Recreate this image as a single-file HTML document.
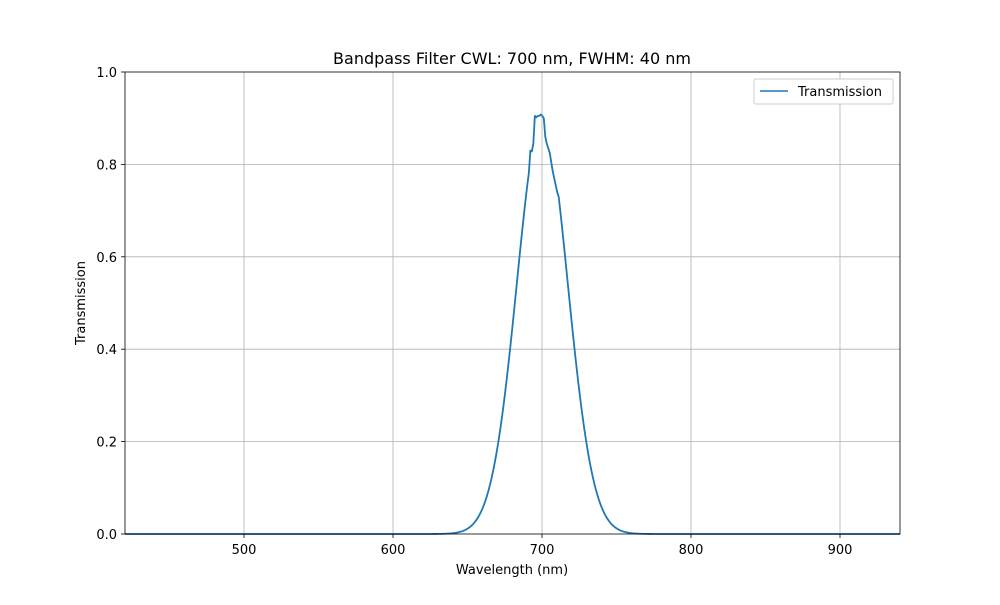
<!DOCTYPE html>
<html><head><meta charset="utf-8"><style>
body{margin:0;background:#fff}
svg text{font-family:"DejaVu Sans","Liberation Sans",sans-serif;fill:#000}
</style></head><body>
<svg id="s" width="1000" height="600" xmlns="http://www.w3.org/2000/svg">
<rect width="1000" height="600" fill="#fff"/>
<g stroke="#b0b0b0" stroke-width="0.8">
<line x1="244" y1="72" x2="244" y2="534"/><line x1="393" y1="72" x2="393" y2="534"/>
<line x1="542" y1="72" x2="542" y2="534"/><line x1="691" y1="72" x2="691" y2="534"/>
<line x1="840" y1="72" x2="840" y2="534"/>
<line x1="125" y1="441.6" x2="900" y2="441.6"/><line x1="125" y1="349.2" x2="900" y2="349.2"/>
<line x1="125" y1="256.8" x2="900" y2="256.8"/><line x1="125" y1="164.4" x2="900" y2="164.4"/>
</g>
<path id="curve" fill="none" stroke="#1f77b4" stroke-width="1.8" stroke-linejoin="round" d=""/>
<rect x="125" y="72" width="775" height="462" fill="none" stroke="#000" stroke-width="0.8"/>
<g stroke="#000" stroke-width="0.8">
<line x1="244" y1="534" x2="244" y2="538"/><line x1="393" y1="534" x2="393" y2="538"/>
<line x1="542" y1="534" x2="542" y2="538"/><line x1="691" y1="534" x2="691" y2="538"/>
<line x1="840" y1="534" x2="840" y2="538"/>
<line x1="121" y1="534" x2="125" y2="534"/><line x1="121" y1="441.6" x2="125" y2="441.6"/>
<line x1="121" y1="349.2" x2="125" y2="349.2"/><line x1="121" y1="256.8" x2="125" y2="256.8"/>
<line x1="121" y1="164.4" x2="125" y2="164.4"/><line x1="121" y1="72" x2="125" y2="72"/>
</g>
<g font-size="13" text-anchor="middle">
<text x="244" y="554">500</text><text x="393" y="554">600</text><text x="542" y="554">700</text>
<text x="691" y="554">800</text><text x="840" y="554">900</text>
<text x="512" y="574">Wavelength (nm)</text>
<text x="512" y="64" font-size="16">Bandpass Filter CWL: 700 nm, FWHM: 40 nm</text>
</g>
<g font-size="13" text-anchor="end">
<text x="117" y="539">0.0</text><text x="117" y="446.6">0.2</text><text x="117" y="354.2">0.4</text>
<text x="117" y="261.8">0.6</text><text x="117" y="169.4">0.8</text><text x="117" y="77">1.0</text>
</g>
<text x="85" y="303" font-size="13" text-anchor="middle" transform="rotate(-90 85 303)">Transmission</text>
<rect x="754" y="79" width="139" height="25" fill="#fff" stroke="#ccc" rx="2"/>
<line x1="760" y1="91" x2="788" y2="91" stroke="#1f77b4" stroke-width="1.5"/>
<text x="798" y="96" font-size="13">Transmission</text>
</svg>
<script>
var s=16.99,pts=[];
var tw={692:0.83,693:0.828,695:0.905,696:0.902,697:0.905,698:0.905,699:0.908,700:0.905,701:0.9,702:0.86,703:0.845,704:0.835,705:0.825,706:0.805,707:0.785,708:0.77,709:0.755,710:0.74};
for(var nm=420;nm<=940;nm+=1){
 var t=0.9*Math.exp(-Math.pow(nm-700,2)/(2*s*s));
 if(tw[nm]!==undefined)t=tw[nm];
 var x=125+(nm-420)*1.49038, y=534-t*462;
 pts.push((pts.length?'L':'M')+x.toFixed(2)+' '+y.toFixed(2));
}
document.getElementById('curve').setAttribute('d',pts.join(''));
</script>
</body></html>
